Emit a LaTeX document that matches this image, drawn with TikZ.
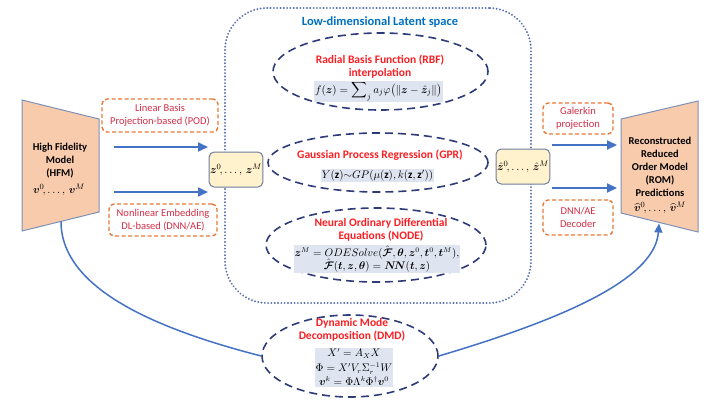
\documentclass[tikz,border=0pt]{standalone}
\usepackage{amsmath,bm}
\usepackage{fontspec}
\setmainfont{Carlito}
\usetikzlibrary{shapes.geometric,arrows.meta}
\definecolor{titleblue}{RGB}{0,112,192}
\definecolor{hred}{RGB}{250,30,35}
\definecolor{lblred}{RGB}{210,45,70}
\definecolor{orng}{RGB}{232,120,55}
\definecolor{navy}{RGB}{45,60,120}
\definecolor{dotblue}{RGB}{85,110,175}
\definecolor{arrblue}{RGB}{68,114,196}
\definecolor{peach}{RGB}{248,203,173}
\definecolor{trapborder}{RGB}{125,145,185}
\definecolor{zfill}{RGB}{255,242,204}
\definecolor{zborder}{RGB}{110,125,155}
\definecolor{formulabg}{RGB}{222,228,240}
\begin{document}
\begin{tikzpicture}[x=1pt,y=-1pt,
  font=\fontsize{10.5}{13}\selectfont,
  latentbox/.style={draw=dotblue, line width=2.1pt, dash pattern=on 0.01pt off 3.3pt, line cap=round, rounded corners=42pt},
  methell/.style={ellipse, draw=navy, line width=1.6pt, dash pattern=on 8pt off 5pt, inner sep=0pt},
  orangebox/.style={draw=orng, line width=1.4pt, dash pattern=on 4pt off 2.5pt, rounded corners=5pt, align=center, text=lblred, inner sep=1pt},
  zbox/.style={draw=zborder, fill=zfill, rounded corners=5pt, line width=1pt, minimum width=52pt, minimum height=35pt, inner sep=1pt},
  trapez/.style={draw=trapborder, fill=peach, line width=1pt},
  flow/.style={draw=arrblue, line width=2pt, -{Triangle[length=10pt,width=9pt]}},
  curve/.style={draw=arrblue, line width=1.5pt},
  methtitle/.style={text=hred, font=\fontsize{11.5}{13}\selectfont\bfseries, align=center, inner sep=0pt},
  formula/.style={fill=formulabg, align=center, inner sep=1pt, font=\fontsize{11}{14}\selectfont},
  boldlbl/.style={font=\fontsize{10.5}{13}\selectfont\bfseries, align=center, inner sep=0pt}
]
\useasboundingbox (0,0) rectangle (720,400);

% latent space box
\node[latentbox, minimum width=306pt, minimum height=295pt] (latent) at (378,155.5) {};
\node[text=titleblue, font=\fontsize{12.5}{14}\selectfont\bfseries, inner sep=0pt] (title) at (380,22) {Low-dimensional Latent space};

% HFM trapezoid
\draw[trapez] (22,100) -- (99,119) -- (99,212) -- (22,231) -- cycle;
\coordinate (hfmb) at (61,221.5);
\node[boldlbl] (hfm) at (60,160.5) {High Fidelity\\Model\\(HFM)};
\node[inner sep=0pt, font=\fontsize{11}{13}\selectfont] (hfmv) at (59,190) {$\bm{v}^{0}\!,\ldots,\,\bm{v}^{M}$};

% ROM trapezoid
\draw[trapez] (621,119) -- (698,101) -- (698,232) -- (621,213) -- cycle;
\coordinate (romb) at (659,223.5);
\node[boldlbl] (rom) at (660,167) {Reconstructed\\Reduced\\Order Model\\(ROM)\\Predictions};
\node[inner sep=0pt, font=\fontsize{11}{13}\selectfont] (romv) at (660,208) {$\widehat{\bm{v}}^{0}\!,\ldots,\,\widehat{\bm{v}}^{M}$};

% latent boxes
\node[zbox, font=\fontsize{11}{13}\selectfont] (z) at (236,169.5) {$\bm{z}^{0}\!,\ldots,\,\bm{z}^{M}$};
\node[zbox, font=\fontsize{11}{13}\selectfont] (zh) at (523,166.5) {$\hat{\bm{z}}^{0}\!,\ldots,\,\hat{\bm{z}}^{M}$};

% orange labels
\node[orangebox, minimum width=116pt, minimum height=33pt] (pod) at (160,115.5) {Linear Basis\\Projection-based (POD)};
\node[orangebox, minimum width=108pt, minimum height=32pt] (dnn) at (163,220) {Nonlinear Embedding\\DL-based (DNN/AE)};
\node[orangebox, minimum width=70pt, minimum height=31pt] (gal) at (578,118.5) {Galerkin\\projection};
\node[orangebox, minimum width=70pt, minimum height=35pt] (dec) at (578,217.5) {DNN/AE\\Decoder};

% arrows
\coordinate (a1s) at (114,147); \coordinate (a1e) at (208,147);
\coordinate (a2s) at (114,192); \coordinate (a2e) at (208,192);
\coordinate (a3s) at (552,145); \coordinate (a3e) at (617,145);
\coordinate (a4s) at (552,188); \coordinate (a4e) at (617,188);
\draw[flow] (a1s) -- (a1e);
\draw[flow] (a2s) -- (a2e);
\draw[flow] (a3s) -- (a3e);
\draw[flow] (a4s) -- (a4e);

% RBF
\node[methell, minimum width=215pt, minimum height=77pt] (rbf) at (380.5,71.5) {};
\node[methtitle] (rbft) at (380,66.5) {Radial Basis Function (RBF)\\interpolation};
\node[formula] (rbff) at (378.5,91.5) {$f(\bm{z}) = \displaystyle\sum\nolimits_{j} a_j\varphi\big(\|\bm{z}-\hat{\bm{z}}_j\|\big)$};

% GPR
\node[methell, minimum width=220pt, minimum height=59pt] (gpr) at (378,162.5) {};
\node[methtitle] (gprt) at (380,155.5) {Gaussian Process Regression (GPR)};
\node[formula] (gprf) at (377.5,175.5) {$Y(\mathbf{z})\mathord{\sim} GP(\mu(\mathbf{z}),k(\mathbf{z},\mathbf{z}'))$};

% NODE
\node[methell, minimum width=220pt, minimum height=74pt] (nde) at (376,245) {};
\node[methtitle] (ndet) at (381,229.5) {Neural Ordinary Differential\\Equations (NODE)};
\node[formula, font=\fontsize{10.5}{13}\selectfont] (ndef) at (377,259) {$\bm{z}^{M} = ODESolve(\hat{\bm{\mathcal{F}}},\bm{\theta},\bm{z}^{0},\bm{t}^{0},\bm{t}^{M}),$\\[-1pt]$\hat{\bm{\mathcal{F}}}(\bm{t},\bm{z},\bm{\theta}) = \bm{N\!N}(\bm{t},\bm{z})$};

% DMD
\node[methell, minimum width=176pt, minimum height=82pt] (dmd) at (350,356) {};
\node[methtitle] (dmdt) at (352,330) {Dynamic Mode\\Decomposition (DMD)};
\node[formula, font=\fontsize{10.5}{14.5}\selectfont] (dmdf) at (354,367.5) {$X' = A_X X$\\$\Phi = X'V_r\Sigma_r^{-1}W$\\$\bm{v}^{k} = \Phi\Lambda^{k}\Phi^{\dagger}\bm{v}^{0}$};

% curves
\draw[curve] (hfmb) .. controls (61,290) and (160,330) .. (dmd.west);
\draw[curve, -{Triangle[length=9pt,width=8pt]}] (dmd.east) .. controls (560,320) and (655,280) .. (romb);
\end{tikzpicture}
\end{document}
